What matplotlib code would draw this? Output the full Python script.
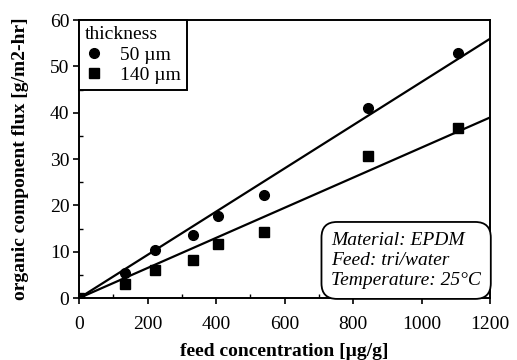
import matplotlib
matplotlib.use("Agg")
import matplotlib.pyplot as plt
from matplotlib.ticker import MultipleLocator
import numpy as np

plt.rcParams['font.family'] = ['Liberation Serif', 'DejaVu Serif']

# data
conc = [0, 135, 222, 332, 405, 540, 843, 1105]
flux_50 = [0, 5.5, 10.4, 13.6, 17.7, 22.2, 41.1, 53.0]
flux_140 = [0, 3.0, 6.0, 8.2, 11.7, 14.2, 30.7, 36.8]
fit_x = [0, 1200]
fit_50 = [0, 56.0]
fit_140 = [0, 39.0]

fig = plt.figure(figsize=(5.17, 3.6), dpi=100)
ax = fig.add_axes([0.153, 0.172, 0.795, 0.772])

ax.plot(fit_x, fit_50, color='black', lw=1.6)
ax.plot(fit_x, fit_140, color='black', lw=1.6)
h1, = ax.plot(conc, flux_50, 'o', color='black', ms=7, label='50 \u00b5m')
h2, = ax.plot(conc, flux_140, 's', color='black', ms=6.5, label='140 \u00b5m')

ax.set_xlim(0, 1200)
ax.set_ylim(0, 60)
ax.xaxis.set_major_locator(MultipleLocator(200))
ax.xaxis.set_minor_locator(MultipleLocator(100))
ax.yaxis.set_major_locator(MultipleLocator(10))
ax.yaxis.set_minor_locator(MultipleLocator(5))
ax.tick_params(which='major', direction='out', length=4, width=1.2, labelsize=14)
ax.tick_params(axis='x', which='major', pad=9)
ax.tick_params(axis='y', which='major', pad=3)
ax.tick_params(which='minor', direction='in', length=3, width=1)
for s in ax.spines.values():
    s.set_linewidth(1.4)

ax.set_xlabel('feed concentration [\u00b5g/g]', fontsize=14, fontweight='bold', labelpad=7)
ax.set_ylabel('organic component flux [g/m2-hr]', fontsize=14, fontweight='bold', labelpad=15)

leg = ax.legend(handles=[h1, h2], title='thickness', loc='upper left',
                bbox_to_anchor=(0, 1), borderaxespad=0, fontsize=14,
                title_fontsize=14, fancybox=False, edgecolor='black',
                framealpha=1, handletextpad=0.9, borderpad=0.3,
                labelspacing=0.15, handlelength=0.9)
leg._legend_box.align = 'left'
leg.get_frame().set_linewidth(1.4)

ax.text(0.978, 0.032, 'Material: EPDM\nFeed: tri/water\nTemperature: 25\u00b0C',
        transform=ax.transAxes, ha='right', va='bottom', multialignment='left',
        fontsize=14, style='italic', linespacing=1.25,
        bbox=dict(boxstyle='round,pad=0.5,rounding_size=0.8', fc='white',
                  ec='black', lw=1.3))

fig.savefig('out.png', dpi=100)
